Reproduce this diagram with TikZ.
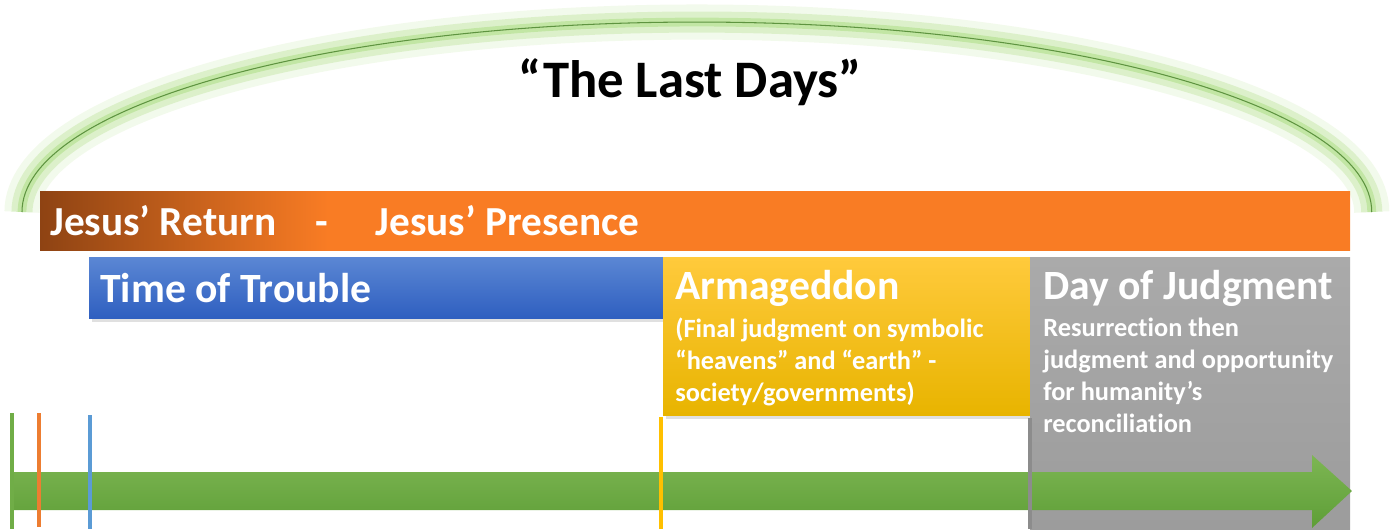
\documentclass[tikz,border=0pt]{standalone}
\usepackage{fontspec}
\setmainfont{Carlito}[Ligatures=NoCommon]
\usepackage{tikz}
\usetikzlibrary{positioning,calc}

\definecolor{glowgreen}{HTML}{A9DB7E}
\definecolor{arcline}{HTML}{5E9440}
\definecolor{barbrown}{HTML}{8E4313}
\definecolor{barorange}{HTML}{F97C24}
\definecolor{bluetop}{HTML}{5B87D4}
\definecolor{bluebot}{HTML}{2F5FC0}
\definecolor{yellowtop}{HTML}{FFCA3C}
\definecolor{yellowbot}{HTML}{E8B400}
\definecolor{graytop}{HTML}{AAAAAA}
\definecolor{graybot}{HTML}{9C9C9C}
\definecolor{arrowtop}{HTML}{7DB653}
\definecolor{arrowbot}{HTML}{5E9E37}
\definecolor{tickgreen}{HTML}{70AD47}
\definecolor{tickorange}{HTML}{ED7D31}
\definecolor{tickblue}{HTML}{5B9BD5}
\definecolor{tickyellow}{HTML}{FFC000}
\definecolor{tickgray}{HTML}{8C8C8C}

\pgfdeclarehorizontalshading{presenceshade}{100bp}{color(0bp)=(barbrown); color(25bp)=(barbrown); color(36bp)=(barorange); color(100bp)=(barorange)}

\tikzset{
  bartext/.style={text=white, font=\bfseries\fontsize{23.5}{27}\selectfont, anchor=west, inner sep=0pt},
  boxtitle/.style={text=white, font=\bfseries\fontsize{23.7}{27}\selectfont, anchor=west, inner sep=0pt},
  boxnote/.style={text=white, font=\bfseries\fontsize{15}{18.2}\selectfont, anchor=north west, align=left, inner sep=0pt},
  tickline/.style={line width=2.3pt}
}

\begin{document}
\begin{tikzpicture}[x=0.02cm, y=-0.02cm]
    \useasboundingbox (0,0) rectangle (1390,529);

    \draw [line width=20pt, glowgreen, opacity=0.15] (22,212) arc [start angle=180, end angle=0, x radius=13.5cm, y radius=3.8cm];
    \draw [line width=12pt, glowgreen, opacity=0.3] (22,212) arc [start angle=180, end angle=0, x radius=13.5cm, y radius=3.8cm];
    \draw [line width=5pt, glowgreen, opacity=0.5] (22,212) arc [start angle=180, end angle=0, x radius=13.5cm, y radius=3.8cm];
    \draw [line width=0.6pt, arcline] (22,212) arc [start angle=180, end angle=0, x radius=13.5cm, y radius=3.8cm];
    \node [font=\bfseries\fontsize{30}{35}\selectfont] (title) at (690,82) {“The Last Days”};

    \shade [shading=presenceshade] (40,191) rectangle (1350,250);
    \node [bartext] (presence) at (50,221) {Jesus’ Return\hspace{0.95em}-\hspace{1.15em}Jesus’ Presence};

    \fill [black!12] (92,261) rectangle (666,322);
    \shade [top color=bluetop, bottom color=bluebot] (89,257) rectangle (663,318);
    \node [boxtitle] (trouble) at (100,288) {Time of Trouble};

    \fill [black!12] (666,261) rectangle (1033,419);
    \shade [top color=yellowtop, bottom color=yellowbot] (663,257) rectangle (1030,415);
    \node [boxtitle] (armageddon) at (675,288) {Armageddon};
    \node [boxnote] (armnote) at (675,318) {(Final judgment on symbolic\\“heavens” and “earth” -\\society/governments)};

    \shade [top color=graytop, bottom color=graybot] (1030,257) rectangle (1350,529);
    \node [boxtitle] (judgment) at (1043,288) {Day of Judgment};
    \node [boxnote] (judgnote) at (1043,318) {Resurrection then\\judgment and opportunity\\for humanity’s\\reconciliation};

    \shade [top color=arrowtop, bottom color=arrowbot] (10,472) -- (1312,472) -- (1312,455) -- (1352,491) -- (1312,528) -- (1312,510) -- (10,510) -- cycle;

    \draw [tickline, tickgreen] (12,413) -- (12,529);
    \draw [tickline, tickorange] (39,413) -- (39,527);
    \draw [tickline, tickblue] (90,415) -- (90,529);
    \draw [tickline, tickyellow] (661,417) -- (661,529);
    \draw [tickline, tickgray] (1030,418) -- (1030,529);
\end{tikzpicture}
\end{document}
